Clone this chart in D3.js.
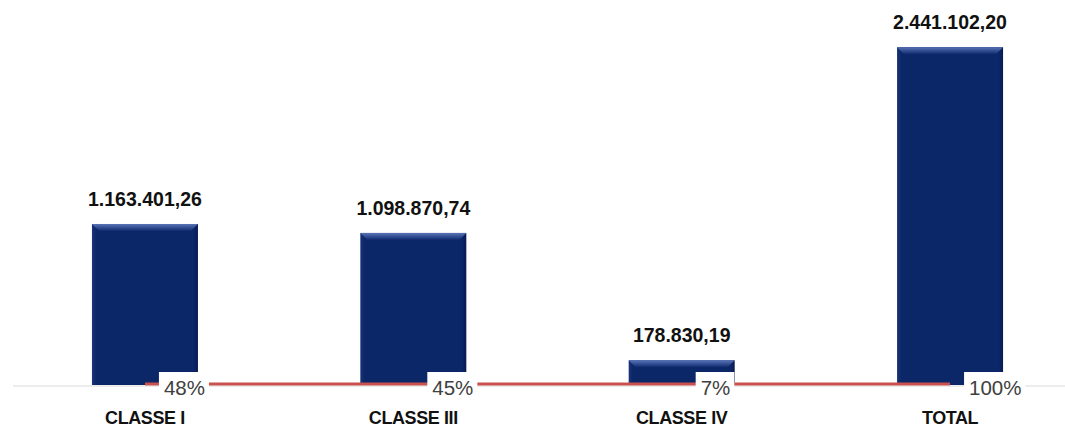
<!DOCTYPE html>
<html>
<head>
<meta charset="utf-8">
<title>Classes</title>
<style>
  body { margin: 0; background: #fff; }
</style>
</head>
<body>
<script src="https://cdn.jsdelivr.net/npm/d3@7"></script>
<script>
// data
var categories = ["CLASSE I", "CLASSE III", "CLASSE IV", "TOTAL"];
var values = [1163401.26, 1098870.74, 178830.19, 2441102.20];
var valueLabels = ["1.163.401,26", "1.098.870,74", "178.830,19", "2.441.102,20"];
var shares = [0.48, 0.45, 0.07, 1.00];
var shareLabels = ["48%", "45%", "7%", "100%"];

var width = 1065, height = 427;

var svg = d3.select("body").append("svg")
  .attr("width", width)
  .attr("height", height);

var defs = svg.append("defs");
var bev = defs.append("linearGradient").attr("id", "bevTop")
  .attr("x1", 0).attr("y1", 0).attr("x2", 0).attr("y2", 1);
bev.append("stop").attr("offset", "0%").attr("stop-color", "#5a74b8");
bev.append("stop").attr("offset", "100%").attr("stop-color", "#0f2a6e");
var side = defs.append("linearGradient").attr("id", "bevSide")
  .attr("x1", 0).attr("y1", 0).attr("x2", 1).attr("y2", 0);
side.append("stop").attr("offset", "0%").attr("stop-color", "#1a3478");
side.append("stop").attr("offset", "4%").attr("stop-color", "#0c2768");
side.append("stop").attr("offset", "96%").attr("stop-color", "#0c2768");
side.append("stop").attr("offset", "100%").attr("stop-color", "#061a50");

//scales
var x = d3.scaleBand()
  .domain(categories)
  .range([0, 1095])
  .paddingInner(0.605)
  .paddingOuter(0.3426);

var y = d3.scaleLinear()
  .domain([0, 2500000])
  .range([385, 39]);

// light baseline
svg.append("line")
  .attr("x1", 13).attr("x2", width)
  .attr("y1", y(0) + 1).attr("y2", y(0) + 1)
  .attr("stroke", "#e6e6e6")
  .attr("stroke-width", 1.5);

var bars = svg.selectAll("g.bar")
  .data(categories)
  .enter().append("g")
  .attr("class", "bar");

bars.append("rect")
  .attr("x", function(d){ return x(d); })
  .attr("y", function(d, i){ return y(values[i]); })
  .attr("width", x.bandwidth())
  .attr("height", function(d, i){ return y(0) - y(values[i]); })
  .attr("fill", "url(#bevSide)");

// bevel highlight on top edge
bars.append("path")
  .attr("d", function(d, i){
    var x0 = x(d), x1 = x(d) + x.bandwidth(), t = y(values[i]);
    var h = Math.min(7, (y(0) - t) / 2);
    return "M" + x0 + "," + t + "L" + x1 + "," + t + "L" + (x1 - h) + "," + (t + h) +
           "L" + (x0 + h) + "," + (t + h) + "Z";
  })
  .attr("fill", "url(#bevTop)");

// value labels
svg.selectAll("text.value")
  .data(categories)
  .enter().append("text")
  .attr("class", "value")
  .attr("x", function(d){ return x(d) + x.bandwidth() / 2; })
  .attr("y", function(d, i){ return y(values[i]) - 18; })
  .attr("text-anchor", "middle")
  .style("font-family", "'Liberation Sans', Arial, sans-serif")
  .style("font-weight", "bold")
  .style("font-size", "19.5px")
  .style("fill", "#111")
  .text(function(d, i){ return valueLabels[i]; });

// share line
var line = d3.line()
  .x(function(d, i){ return x(categories[i]) + x.bandwidth() / 2; })
  .y(function(d){ return y(d) - 1; });

svg.append("path")
  .datum(shares)
  .attr("d", line)
  .attr("fill", "none")
  .attr("stroke", "#c9524f")
  .attr("stroke-width", 3);

// share labels
var sl = svg.selectAll("g.share")
  .data(categories)
  .enter().append("g")
  .attr("class", "share")
  .attr("transform", function(d, i){
    return "translate(" + (x(d) + x.bandwidth() / 2 + 14) + "," + y(shares[i]) + ")";
  });

sl.append("text")
  .attr("x", 5)
  .attr("y", 10)
  .style("font-family", "'Liberation Sans', Arial, sans-serif")
  .style("font-size", "20.5px")
  .style("fill", "#404040")
  .text(function(d, i){ return shareLabels[i]; })
  .each(function(){
    var b = this.getBBox();
    d3.select(this.parentNode).insert("rect", "text")
      .attr("x", 0)
      .attr("y", -13)
      .attr("width", b.width + 9)
      .attr("height", 28)
      .attr("fill", "#fff");
  });

// category labels
svg.selectAll("text.cat")
  .data(categories)
  .enter().append("text")
  .attr("class", "cat")
  .attr("x", function(d){ return x(d) + x.bandwidth() / 2; })
  .attr("y", 424)
  .attr("text-anchor", "middle")
  .style("font-family", "'Liberation Sans', Arial, sans-serif")
  .style("font-weight", "bold")
  .style("font-size", "18px")
  .style("letter-spacing", "-0.4px")
  .style("fill", "#111")
  .text(function(d){ return d; });
</script>
</body>
</html>
